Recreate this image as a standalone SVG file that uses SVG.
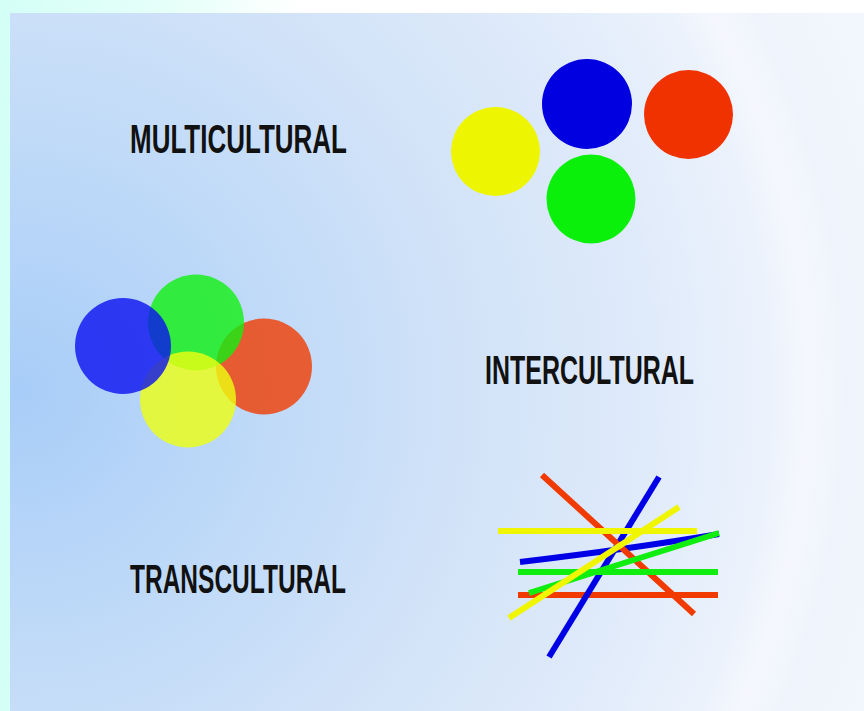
<svg xmlns="http://www.w3.org/2000/svg" width="864" height="711" viewBox="0 0 864 711">
  <defs>
    <linearGradient id="topStrip" x1="0" y1="0" x2="1" y2="0">
      <stop offset="0" stop-color="#d4fff6"/>
      <stop offset="0.2" stop-color="#e6fff9"/>
      <stop offset="0.35" stop-color="#ffffff"/>
      <stop offset="1" stop-color="#ffffff"/>
    </linearGradient>
    <radialGradient id="panelBg" gradientUnits="userSpaceOnUse" cx="20" cy="390" r="960">
      <stop offset="0" stop-color="#a8cdf8"/>
      <stop offset="0.22" stop-color="#bcd8f8"/>
      <stop offset="0.45" stop-color="#d0e2f8"/>
      <stop offset="0.65" stop-color="#dfeafa"/>
      <stop offset="0.78" stop-color="#ebf2fc"/>
      <stop offset="0.82" stop-color="#f5f7fd"/>
      <stop offset="0.86" stop-color="#eff4fc"/>
      <stop offset="1" stop-color="#f4f7fd"/>
    </radialGradient>
  </defs>
  <style>
    .label { font-family: "Liberation Sans Narrow", "Liberation Sans", "DejaVu Sans Condensed", sans-serif; font-weight: bold; font-size: 40px; fill: #111111; }
    .soft { opacity: 0.8; }
    .stick { fill: none; stroke-width: 6; stroke-linecap: butt; }
  </style>

  <!-- frame and panel background -->
  <rect x="0" y="0" width="864" height="711" fill="#d4fff6"/>
  <rect x="0" y="0" width="864" height="13" fill="url(#topStrip)"/>
  <rect x="10" y="13" width="854" height="698" fill="url(#panelBg)"/>

  <!-- multicultural: separate circles -->
  <g id="multicultural">
    <circle cx="495.5" cy="151.5" r="44.5" fill="#eef500"/>
    <circle cx="587" cy="104" r="45" fill="#0000e0"/>
    <circle cx="688.5" cy="114.5" r="44.5" fill="#f03200"/>
    <circle cx="591" cy="199" r="44.5" fill="#0af00a"/>
    <text class="label" x="130" y="153" textLength="217" lengthAdjust="spacingAndGlyphs">MULTICULTURAL</text>
  </g>

  <!-- intercultural: overlapping translucent circles -->
  <g id="intercultural">
    <circle class="soft" cx="264" cy="366.5" r="48" fill="#f03c00"/>
    <circle class="soft" cx="196" cy="322.5" r="48" fill="#10f010"/>
    <circle class="soft" cx="188" cy="399.5" r="48" fill="#eeff10"/>
    <circle class="soft" cx="123" cy="346" r="48" fill="#0a10f0"/>
    <text class="label" x="485" y="384" textLength="209" lengthAdjust="spacingAndGlyphs">INTERCULTURAL</text>
  </g>

  <!-- transcultural: crossing sticks -->
  <g id="transcultural">
    <text class="label" x="130" y="593" textLength="216" lengthAdjust="spacingAndGlyphs">TRANSCULTURAL</text>
  </g>

  <g id="connectors">
    <line class="stick" x1="518" y1="595" x2="718" y2="595" stroke="#f03a00"/>
    <line class="stick" x1="659" y1="477" x2="549" y2="657" stroke="#0000e6"/>
    <path class="stick" d="M520 562 Q630 549 719 534" stroke="#0000e6"/>
    <line class="stick" x1="542" y1="475" x2="694" y2="614" stroke="#f03a00"/>
    <line class="stick" x1="518" y1="572" x2="718" y2="572" stroke="#10ee10"/>
    <line class="stick" x1="498" y1="531" x2="697" y2="531" stroke="#f0f500"/>
    <line class="stick" x1="529" y1="593" x2="719" y2="533" stroke="#10ee10"/>
    <line class="stick" x1="509" y1="618" x2="679" y2="507" stroke="#f0f500"/>
  </g>
</svg>
